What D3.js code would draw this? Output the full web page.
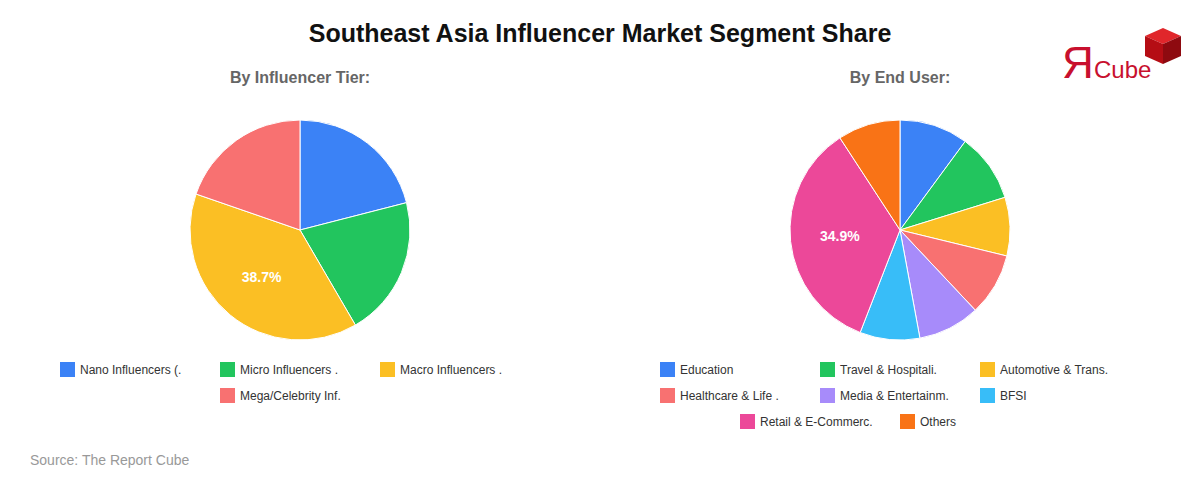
<!DOCTYPE html>
<html>
<head>
<meta charset="utf-8">
<script src="https://cdn.jsdelivr.net/npm/d3@7"></script>
<style>
  body { margin: 0; background: #fff; }
  svg { font-family: "Liberation Sans", Arial, sans-serif; }
</style>
</head>
<body>
<svg id="svg1" width="1200" height="480"></svg>
<script>
var svg = d3.select('#svg1');

// data
var tierLabels = ['Nano Influencers (.', 'Micro Influencers .', 'Macro Influencers .', 'Mega/Celebrity Inf.'];
var tierValues = [21.0, 20.6, 38.7, 19.7];
var tierColors = ['#3b82f6', '#22c55e', '#fbbf24', '#f87171'];

var userLabels = ['Education', 'Travel & Hospitali.', 'Automotive & Trans.', 'Healthcare & Life .',
                  'Media & Entertainm.', 'BFSI', 'Retail & E-Commerc.', 'Others'];
var userValues = [10.1, 10.1, 8.6, 9.2, 9.1, 8.8, 34.9, 9.2];
var userColors = ['#3b82f6', '#22c55e', '#fbbf24', '#f87171', '#a78bfa', '#38bdf8', '#ec4899', '#f97316'];

var radius = 110;

svg.append('text')
    .attr('x', 600).attr('y', 42)
    .attr('text-anchor', 'middle')
    .style('font-size', '25px').style('font-weight', 'bold')
    .attr('fill', '#111')
    .text('Southeast Asia Influencer Market Segment Share');

function drawPie(cx, title, labels, values, colors) {
    var g = svg.append('g');

    g.append('text')
        .attr('x', cx).attr('y', 83)
        .attr('text-anchor', 'middle')
        .style('font-size', '16px').style('font-weight', 'bold')
        .attr('fill', '#666')
        .text(title);

    var pie = d3.pie().sort(null).value(function(d) { return d; });
    var arc = d3.arc().innerRadius(0).outerRadius(radius);
    var labelArc = d3.arc().innerRadius(radius * 0.55).outerRadius(radius * 0.55);
    var total = d3.sum(values);
    var arcs = pie(values);

    var pg = g.append('g').attr('transform', 'translate(' + [cx, 230] + ')');
    pg.selectAll('path')
        .data(arcs)
        .enter()
        .append('path')
        .attr('d', arc)
        .attr('fill', function(d, i) { return colors[i]; })
        .attr('stroke', '#fff')
        .attr('stroke-width', 1);

    // only the big slice gets a label
    pg.selectAll('text.pct')
        .data(arcs.filter(function(d) { return d.value / total > 0.3; }))
        .enter()
        .append('text')
        .attr('class', 'pct')
        .attr('transform', function(d) { return 'translate(' + labelArc.centroid(d) + ')'; })
        .attr('text-anchor', 'middle')
        .attr('dy', '0.35em')
        .style('font-size', '14px').style('font-weight', 'bold')
        .attr('fill', '#fff')
        .text(function(d) { return (d.value / total * 100).toFixed(1) + '%'; });

    // legend, 3 per row, last row centred
    var colW = 160, rowH = 26, perRow = 3;
    var left = cx - 240;
    labels.forEach(function(lab, i) {
        var row = Math.floor(i / perRow);
        var col = i % perRow;
        var inRow = Math.min(perRow, labels.length - row * perRow);
        var x = left + (perRow - inRow) * colW / 2 + col * colW;
        var y = 362 + row * rowH;
        var item = g.append('g').attr('transform', 'translate(' + [x, y] + ')');
        item.append('rect')
            .attr('width', 15).attr('height', 15)
            .attr('fill', colors[i]);
        item.append('text')
            .attr('x', 20).attr('y', 12)
            .style('font-size', '12px')
            .attr('fill', '#333')
            .text(lab);
    });
}

drawPie(300, 'By Influencer Tier:', tierLabels, tierValues, tierColors);
drawPie(900, 'By End User:', userLabels, userValues, userColors);

svg.append('text')
    .attr('x', 30).attr('y', 465)
    .style('font-size', '14px')
    .attr('fill', '#999')
    .text('Source: The Report Cube');

// logo
var logo = svg.append('g').attr('transform', 'translate(1062,28)');
logo.append('text')
    .attr('x', 0).attr('y', 50)
    .style('font-size', '44px')
    .attr('fill', '#c8102e')
    .text('\u042F');
logo.append('text')
    .attr('x', 32).attr('y', 50)
    .style('font-size', '24px')
    .attr('fill', '#c8102e')
    .text('Cube');
var c = logo.append('g').attr('transform', 'translate(83,0)');
c.append('polygon').attr('points', '18,0 36,8 18,16 0,8').attr('fill', '#e0262b');
c.append('polygon').attr('points', '0,8 18,16 18,36 0,28').attr('fill', '#b50d14');
c.append('polygon').attr('points', '36,8 18,16 18,36 36,28').attr('fill', '#8e0a10');
</script>
</body>
</html>
